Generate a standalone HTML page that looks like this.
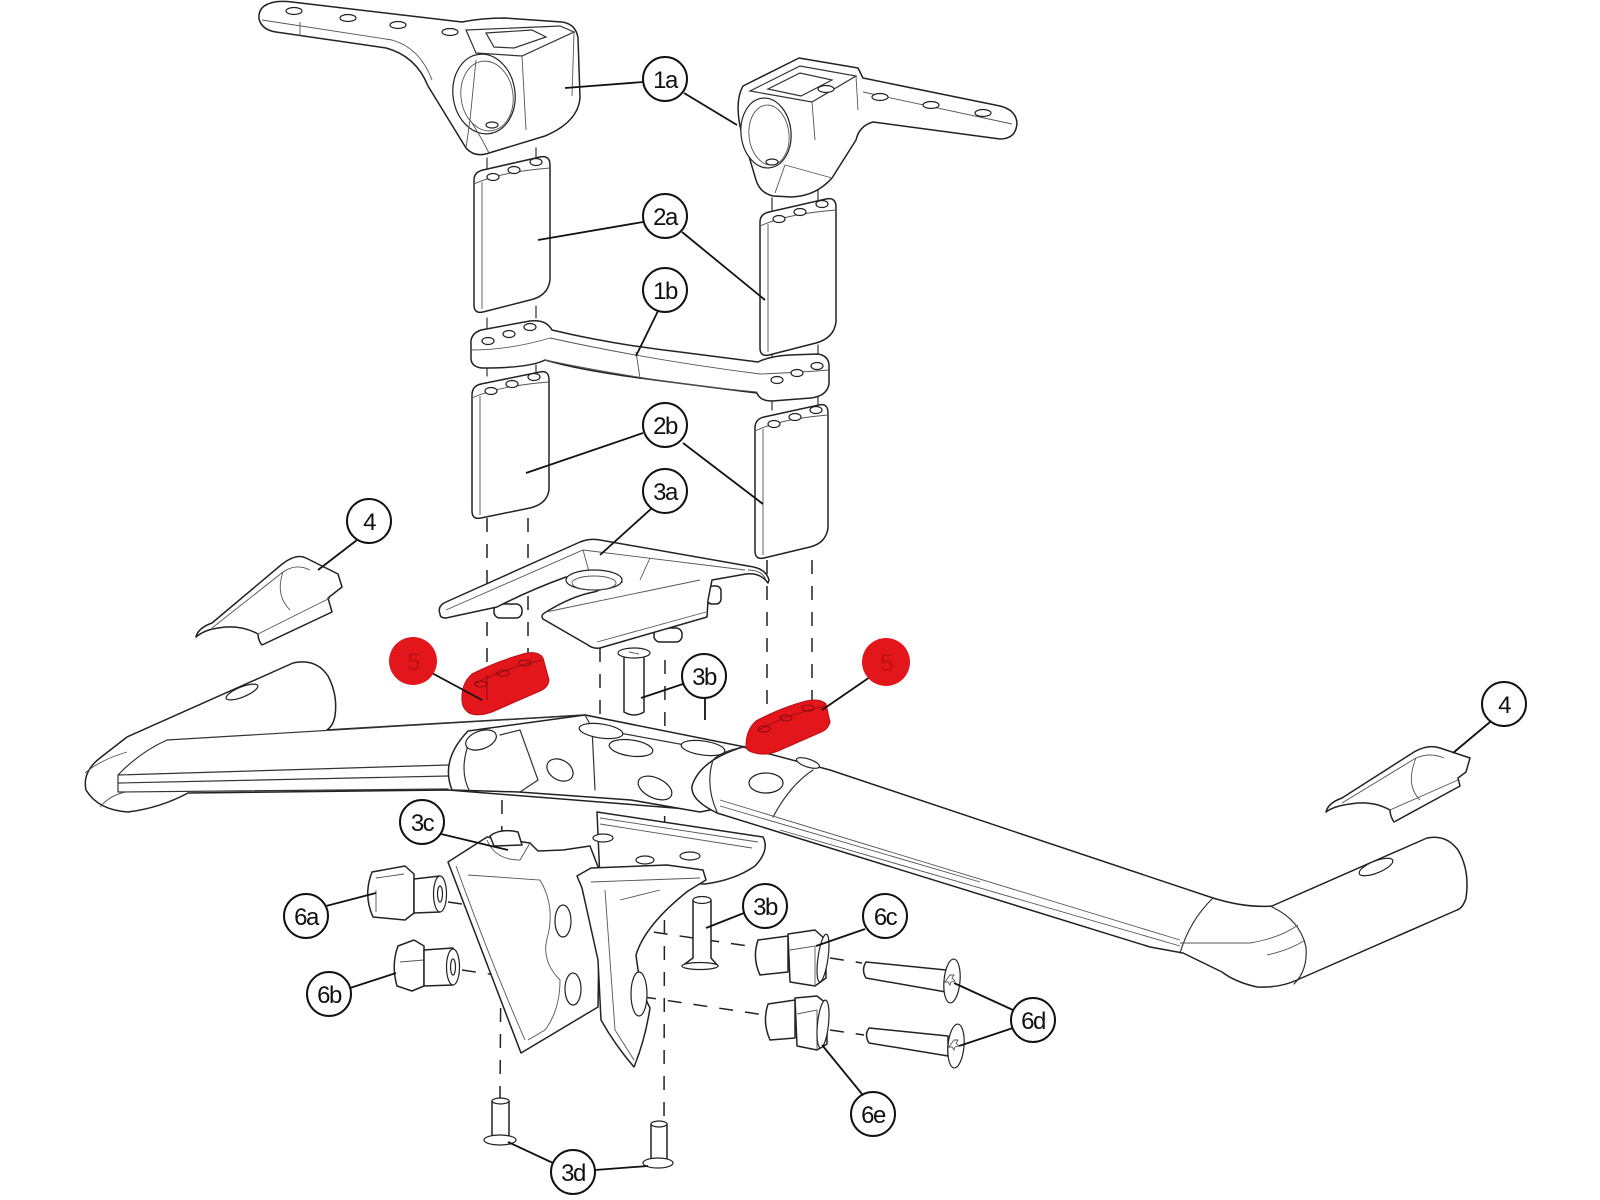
<!DOCTYPE html>
<html>
<head>
<meta charset="utf-8">
<style>
  html,body{margin:0;padding:0;background:#fff;}
  body{width:1600px;height:1200px;overflow:hidden;}
  svg{display:block;}
  .p{fill:#fff;stroke:#222;stroke-width:1.5;stroke-linejoin:round;stroke-linecap:round;}
  .l{fill:none;stroke:#333;stroke-width:1.2;stroke-linecap:round;}
  .t{fill:none;stroke:#555;stroke-width:0.9;}
  .h{fill:#fff;stroke:#222;stroke-width:1.2;}
  .d{fill:none;stroke:#222;stroke-width:1.5;stroke-dasharray:14 12;}
  .ld{fill:none;stroke:#111;stroke-width:1.8;}
  .c{fill:#fff;stroke:#111;stroke-width:2;}
  .tx{font-family:"Liberation Sans",sans-serif;font-size:24px;fill:#111;text-anchor:middle;letter-spacing:-1.5px;}
  .red{fill:#e3161c;stroke:#b80f14;stroke-width:1;}
</style>
</head>
<body>
<svg width="1600" height="1200" viewBox="0 0 1600 1200" xmlns="http://www.w3.org/2000/svg">

<!-- ============ dashed assembly lines ============ -->
<g class="d">
  <line x1="487" y1="518" x2="487" y2="700"/>
  <line x1="528" y1="518" x2="528" y2="655"/>
  <line x1="502" y1="800" x2="500" y2="1098"/>
  <line x1="528" y1="720" x2="528" y2="790"/>
  <line x1="600" y1="648" x2="600" y2="720"/>
  <line x1="665" y1="660" x2="664" y2="1120"/>
  <line x1="767" y1="560" x2="767" y2="730"/>
  <line x1="812" y1="560" x2="812" y2="700"/>
  <line x1="448" y1="902" x2="755" y2="947"/>
  <line x1="830" y1="958" x2="862" y2="963"/>
  <line x1="462" y1="970" x2="765" y2="1015"/>
  <line x1="830" y1="1030" x2="864" y2="1035"/>
</g>
<!-- short solid ticks between stacked parts -->
<g class="l">
  <line x1="487" y1="158" x2="487" y2="168"/>
  <line x1="536" y1="148" x2="536" y2="158"/>
  <line x1="772" y1="198" x2="772" y2="210"/>
  <line x1="818" y1="188" x2="818" y2="200"/>
  <line x1="487" y1="318" x2="487" y2="330"/>
  <line x1="536" y1="306" x2="536" y2="318"/>
  <line x1="772" y1="352" x2="772" y2="362"/>
  <line x1="818" y1="345" x2="818" y2="356"/>
  <line x1="487" y1="365" x2="487" y2="376"/>
  <line x1="536" y1="365" x2="536" y2="372"/>
  <line x1="772" y1="400" x2="772" y2="410"/>
  <line x1="818" y1="396" x2="818" y2="404"/>
</g>

<!-- ============ 1a left stem ============ -->
<g>
  <path class="p" d="M268,4 Q258,8 259,19 Q262,30 276,32 L386,48 Q416,56 428,86 L466,148 Q475,158 489,153 L545,136 Q578,122 580,98 L578,38 Q576,24 562,22 L505,18 Q482,18 462,22 L292,2 Q277,0 268,4 Z"/>
  <path class="t" d="M262,20 L392,40 Q420,48 432,80"/>
  <path class="t" d="M300,22 L300,36"/>
  <path class="l" d="M466,30 L560,26 L574,32 L522,56 L476,53 Z"/>
  <path class="l" d="M486,33 L532,30 L546,37 L514,48 L494,47 Z"/>
  <path class="t" d="M522,56 L526,130 M574,32 L572,96"/>
  <ellipse class="h" cx="484" cy="94" rx="31" ry="40" transform="rotate(-8 484 94)"/>
  <ellipse class="t" cx="487" cy="96" rx="26" ry="35" transform="rotate(-8 487 96)"/>
  <path class="t" d="M466,148 L470,120 Q480,135 489,153 M470,120 L476,60"/>
  <ellipse class="h" cx="294" cy="11" rx="8" ry="3.5"/>
  <ellipse class="h" cx="348" cy="18" rx="8" ry="3.5"/>
  <ellipse class="h" cx="398" cy="25" rx="8" ry="3.5"/>
  <ellipse class="h" cx="450" cy="32" rx="8" ry="3.5"/>
  <ellipse class="h" cx="492" cy="125" rx="6" ry="3"/>
</g>

<!-- ============ 1a right stem ============ -->
<g>
  <path class="p" d="M743,86 L799,58 L858,68 L863,78 L1000,106 Q1016,110 1017,123 Q1016,139 1000,139 L873,122 Q859,126 856,140 L832,178 Q816,196 792,197 L773,196 Q760,193 756,180 L740,126 Q735,100 743,86 Z"/>
  <path class="l" d="M750,91 L800,66 L856,76 L812,102 Z"/>
  <path class="l" d="M768,89 L800,73 L832,80 L801,96 Z"/>
  <path class="t" d="M863,92 L1012,124 M812,102 L815,140 M856,76 L858,110"/>
  <ellipse class="h" cx="766" cy="133" rx="25" ry="35" transform="rotate(-6 766 133)"/>
  <ellipse class="t" cx="769" cy="135" rx="20" ry="30" transform="rotate(-6 769 135)"/>
  <path class="t" d="M775,193 L785,165 L832,178"/>
  <ellipse class="h" cx="826" cy="89" rx="8" ry="3.5"/>
  <ellipse class="h" cx="880" cy="97" rx="8" ry="3.5"/>
  <ellipse class="h" cx="931" cy="105" rx="8" ry="3.5"/>
  <ellipse class="h" cx="983" cy="113" rx="8" ry="3.5"/>
  <ellipse class="h" cx="772" cy="162" rx="6" ry="3"/>
</g>

<!-- ============ 2a spacers ============ -->
<g>
  <path class="p" d="M474,180 Q474,172 483,170 L540,157 Q550,155 550,165 L550,280 Q548,296 530,300 L483,312 Q474,314 474,305 Z"/>
  <path class="t" d="M474,184 Q500,172 550,168 M482,182 L482,309"/>
  <ellipse class="h" cx="493" cy="177" rx="6" ry="3.5"/>
  <ellipse class="h" cx="514" cy="170" rx="6" ry="3.5"/>
  <ellipse class="h" cx="536" cy="162" rx="6" ry="3.5"/>

  <path class="p" d="M760,222 Q760,214 769,212 L826,199 Q836,197 836,207 L836,322 Q834,338 816,343 L769,355 Q760,357 760,348 Z"/>
  <path class="t" d="M760,226 Q786,214 836,210 M768,224 L768,352"/>
  <ellipse class="h" cx="779" cy="219" rx="6" ry="3.5"/>
  <ellipse class="h" cx="800" cy="212" rx="6" ry="3.5"/>
  <ellipse class="h" cx="822" cy="204" rx="6" ry="3.5"/>
</g>

<!-- ============ 1b bridge ============ -->
<g>
  <path class="p" d="M471,344 Q470,334 481,330 L530,321 Q546,319 552,330 Q610,344 680,352 L758,362 Q770,356 790,355 L818,354 Q830,356 829,368 L829,384 Q827,396 811,398 L772,401 Q760,401 757,393 Q700,386 640,378 Q580,370 545,360 Q530,368 482,368 Q471,367 471,358 Z"/>
  <path class="t" d="M471,350 Q510,350 550,338 Q650,360 760,374 Q790,373 829,370"/>
  <path class="t" d="M545,360 Q650,382 757,392 M636,352 L640,378"/>
  <ellipse class="h" cx="488" cy="341" rx="6" ry="3.5"/>
  <ellipse class="h" cx="509" cy="334" rx="6" ry="3.5"/>
  <ellipse class="h" cx="530" cy="327" rx="6" ry="3.5"/>
  <ellipse class="h" cx="777" cy="380" rx="6" ry="3.5"/>
  <ellipse class="h" cx="797" cy="373" rx="6" ry="3.5"/>
  <ellipse class="h" cx="817" cy="366" rx="6" ry="3.5"/>
</g>

<!-- ============ 2b spacers ============ -->
<g>
  <path class="p" d="M472,395 Q472,386 481,384 L540,372 Q549,370 549,380 L549,490 Q547,504 530,508 L481,518 Q472,520 472,511 Z"/>
  <path class="t" d="M472,398 Q498,386 549,382 M480,396 L480,515"/>
  <ellipse class="h" cx="491" cy="391" rx="6" ry="3.5"/>
  <ellipse class="h" cx="512" cy="384" rx="6" ry="3.5"/>
  <ellipse class="h" cx="534" cy="377" rx="6" ry="3.5"/>

  <path class="p" d="M755,428 Q755,419 764,417 L819,405 Q828,403 828,413 L828,528 Q826,543 810,547 L764,558 Q755,560 755,551 Z"/>
  <path class="t" d="M755,431 Q780,419 828,415 M763,429 L763,555"/>
  <ellipse class="h" cx="774" cy="424" rx="6" ry="3.5"/>
  <ellipse class="h" cx="795" cy="417" rx="6" ry="3.5"/>
  <ellipse class="h" cx="816" cy="410" rx="6" ry="3.5"/>
</g>

<!-- ============ 3a cover plate ============ -->
<g>
  <rect class="p" x="494" y="604" width="28" height="14" rx="6"/>
  <rect class="p" x="654" y="628" width="28" height="14" rx="6"/>
  <rect class="p" x="707" y="586" width="14" height="18" rx="5"/>
  <path class="p" d="M440,614 Q437,606 446,602 L580,542 Q590,538 600,540 L748,566 Q766,568 769,580 L768,583 Q760,572 746,574 L712,580 L708,600 L707,617 L600,648 Q593,649 588,645 L543,619 Q540,615 546,612 Q572,596 594,592 L622,582 L566,577 Q530,590 497,607 L446,618 Q440,618 440,614 Z"/>
  <path class="t" d="M446,610 L583,550 L745,570 M546,612 L700,580 M597,642 L706,612"/>
  <path class="t" d="M583,550 L590,575 M650,558 L640,580"/>
  <ellipse class="h" cx="594" cy="580" rx="28" ry="10"/>
  <ellipse class="t" cx="594" cy="583" rx="22" ry="7"/>
  <path class="t" d="M748,570 Q762,570 766,580"/>
</g>

<!-- ============ 4 left cover ============ -->
<g>
  <path class="p" d="M196,637 Q198,628 212,623 L281,565 Q296,553 306,558 L338,574 L342,587 L328,598 L332,612 L262,645 Q258,640 258,634 Q240,624 218,628 Q204,630 196,637 Z"/>
  <path class="t" d="M212,628 L283,572 Q296,563 310,570 M258,634 L330,598 M283,572 Q275,595 290,610"/>
</g>

<!-- ============ 4 right cover ============ -->
<g>
  <path class="p" d="M1326,812 Q1328,803 1342,798 L1414,752 Q1428,744 1440,748 L1470,758 L1466,772 L1458,778 L1460,786 L1394,822 Q1390,816 1390,810 Q1372,800 1350,804 Q1334,806 1326,812 Z"/>
  <path class="t" d="M1342,803 L1416,758 Q1430,752 1444,758 M1390,810 L1458,780 M1416,758 Q1405,785 1420,800"/>
</g>

<!-- ============ Main bar / basebar ============ -->
<g>
  <path class="p" d="M188,793 Q160,808 128,812 Q98,810 86,790 Q82,772 100,758 L127,737 L293,663 Q316,658 328,676 Q338,695 335,716 Q333,726 327,730 L360,728 L585,715 L740,747 L740,790 L700,810 L448,790 Z"/>
  <path class="l" d="M167,740 L585,715"/>
  <path class="l" d="M167,740 Q140,752 118,775 L118,792 M118,775 L448,765 M118,783 L448,776 M118,792 L448,789"/>
  <path class="t" d="M85,773 Q100,760 127,752 M100,807 Q110,795 126,792"/>
  <ellipse class="h" cx="242" cy="692" rx="17" ry="5" transform="rotate(-22 242 692)"/>
  <path class="p" d="M452,790 Q440,760 468,731 L585,715 L745,747 L760,800 L700,812 L631,800 L519,792 Z"/>
  <path class="l" d="M470,740 Q458,770 470,792 M585,715 L592,728 L740,755 M500,735 L520,730 L538,780 L520,792 M595,790 L592,728"/>
  <ellipse class="h" cx="481" cy="740" rx="16" ry="9" transform="rotate(-20 481 740)"/>
  <ellipse class="h" cx="601" cy="731" rx="22" ry="7" transform="rotate(8 601 731)"/>
  <ellipse class="h" cx="631" cy="748" rx="22" ry="8" transform="rotate(8 631 748)"/>
  <ellipse class="h" cx="703" cy="748" rx="22" ry="7" transform="rotate(8 703 748)"/>
  <ellipse class="h" cx="560" cy="770" rx="14" ry="10" transform="rotate(30 560 770)"/>
  <ellipse class="h" cx="655" cy="788" rx="18" ry="10" transform="rotate(25 655 788)"/>
  <path class="p" d="M743,747 L830,770 L1213,898 Q1245,908 1272,906 L1427,838 Q1446,834 1458,850 Q1470,870 1466,898 Q1463,908 1457,910 L1297,980 Q1280,988 1257,987 Q1235,982 1222,972 L1183,953 L1150,947 L717,813 Q690,800 692,786 Q700,760 743,747 Z"/>
  <path class="l" d="M713,760 Q705,785 717,812 M743,747 Q720,752 713,760"/>
  <path class="l" d="M773,817 Q790,785 813,770"/>
  <path class="t" d="M720,800 L1180,940 M780,830 L1180,946 M720,806 L980,882"/>
  <path class="l" d="M1213,898 Q1190,920 1180,953"/>
  <path class="l" d="M1272,907 Q1300,920 1306,947 Q1308,970 1294,984"/>
  <path class="t" d="M1180,943 L1250,943 Q1280,938 1298,925 M1267,955 Q1290,950 1305,940"/>
  <ellipse class="h" cx="766" cy="783" rx="17" ry="10"/>
  <ellipse class="h" cx="808" cy="763" rx="12" ry="4" transform="rotate(18 808 763)"/>
  <ellipse class="h" cx="1376" cy="867" rx="18" ry="6" transform="rotate(-22 1376 867)"/>
</g>

<!-- ============ 3b upper pin ============ -->
<g>
  <path class="p" d="M624,655 L644,655 L644,712 Q634,718 624,712 Z"/>
  <ellipse class="h" cx="634" cy="653" rx="16" ry="5"/>
  <path class="t" d="M629,652 L639,654"/>
</g>

<!-- ============ 5 red pads ============ -->
<g>
  <path class="red" d="M462,700 Q461,684 472,674 Q495,662 523,654 Q538,650 543,658 L549,680 Q548,688 540,691 L492,712 Q478,717 469,713 Q462,708 462,700 Z"/>
  <path d="M474,684 Q500,670 542,660" fill="none" stroke="#8a0c0f" stroke-width="0.8"/>
  <ellipse cx="481" cy="684" rx="6" ry="3" fill="none" stroke="#7a0a0d" stroke-width="0.8"/>
  <ellipse cx="503" cy="673" rx="6" ry="3" fill="none" stroke="#7a0a0d" stroke-width="0.8"/>
  <ellipse cx="525" cy="663" rx="6" ry="3" fill="none" stroke="#7a0a0d" stroke-width="0.8"/>
  <line x1="487" y1="675" x2="487" y2="700" stroke="#7a0a0d" stroke-width="0.8"/>

  <path class="red" d="M746,746 Q746,730 756,721 Q780,708 806,701 Q820,698 826,704 L830,722 Q828,730 819,733 L778,751 Q765,756 755,753 Q746,751 746,746 Z"/>
  <path d="M757,731 Q785,715 826,706" fill="none" stroke="#8a0c0f" stroke-width="0.8"/>
  <ellipse cx="764" cy="729" rx="6" ry="3" fill="none" stroke="#7a0a0d" stroke-width="0.8"/>
  <ellipse cx="786" cy="718" rx="6" ry="3" fill="none" stroke="#7a0a0d" stroke-width="0.8"/>
  <ellipse cx="808" cy="708" rx="6" ry="3" fill="none" stroke="#7a0a0d" stroke-width="0.8"/>
</g>

<!-- ============ 3c bracket ============ -->
<g>
  <path class="p" d="M597,812 L763,837 Q770,850 755,866 Q735,880 705,884 L600,880 Z"/>
  <path class="t" d="M600,818 L758,842 M600,824 L752,848"/>
  <path class="p" d="M448,862 L487,837 L530,843 L538,851 L563,850 L590,846 L600,872 L598,1007 L521,1053 Q485,960 448,862 Z"/>
  <path class="t" d="M456,866 Q490,960 525,1040 M468,875 L540,880 Q555,905 548,935 Q540,960 560,980 Q560,1010 545,1030 L528,1040 M487,840 Q495,860 520,860 L530,843"/>
  <ellipse class="h" cx="563" cy="921" rx="8" ry="16"/>
  <ellipse class="h" cx="573" cy="989" rx="8" ry="16"/>
  <path class="p" d="M577,876 L591,868 L667,865 L703,870 L706,880 L688,891 Q645,925 636,955 Q640,990 650,1008 Q645,1040 634,1067 Q615,1045 601,1020 L598,960 L582,888 Z"/>
  <path class="t" d="M591,882 L700,878 M605,890 L615,1030 L634,1060 M620,900 Q640,895 660,890"/>
  <ellipse class="h" cx="639" cy="994" rx="8" ry="22"/>
  <ellipse class="h" cx="603" cy="838" rx="10" ry="4"/>
  <ellipse class="h" cx="690" cy="856" rx="10" ry="4"/>
  <ellipse class="h" cx="645" cy="860" rx="9" ry="4"/>
  <path class="p" d="M490,836 Q500,828 518,832 L522,845 L494,846 Z"/>
</g>

<!-- ============ 3b lower pin ============ -->
<g>
  <path class="p" d="M693,900 L711,900 L711,958 L718,966 Q700,972 682,966 L693,958 Z"/>
  <ellipse class="h" cx="702" cy="900" rx="9" ry="3.5"/>
  <ellipse class="h" cx="700" cy="966" rx="18" ry="3.5"/>
</g>

<!-- ============ nuts 6a / 6b / 6c / 6e ============ -->
<g>
  <path class="p" d="M372,872 L405,866 L414,874 L414,913 L405,920 L373,917 Q363,895 372,872 Z"/>
  <path class="t" d="M376,878 L404,874 M376,890 L376,912"/>
  <path class="p" d="M414,879 L440,876 L440,912 L414,913 Z"/>
  <ellipse class="h" cx="440" cy="894" rx="6.5" ry="18"/>
  <ellipse class="h" cx="440" cy="894" rx="2.5" ry="8"/>

  <path class="p" d="M398,946 L414,940 L424,946 L424,986 L412,991 L397,986 Q391,965 398,946 Z"/>
  <path class="t" d="M400,962 L424,960"/>
  <path class="p" d="M424,950 L453,948 L453,985 L424,986 Z"/>
  <ellipse class="h" cx="453" cy="967" rx="6.5" ry="18"/>
  <ellipse class="h" cx="453" cy="967" rx="2.5" ry="8"/>

  <path class="p" d="M758,940 L788,936 L788,972 L760,975 Q752,958 758,940 Z"/>
  <path class="p" d="M788,934 L815,930 L826,940 L826,978 L815,986 L790,982 Z"/>
  <path class="t" d="M790,950 L815,946 L815,986"/>
  <ellipse class="h" cx="823" cy="958" rx="5" ry="24" transform="rotate(8 823 958)"/>

  <path class="p" d="M768,1004 L795,1000 L795,1038 L770,1040 Q762,1022 768,1004 Z"/>
  <path class="p" d="M795,998 L817,996 L827,1004 L827,1044 L817,1050 L797,1046 Z"/>
  <path class="t" d="M797,1014 L817,1010 L817,1050"/>
  <ellipse class="h" cx="823" cy="1024" rx="5.5" ry="24" transform="rotate(6 823 1024)"/>
</g>

<!-- ============ 6d bolts ============ -->
<g>
  <path class="p" d="M866,962 L946,970 L946,992 L866,978 Q861,970 866,962 Z"/>
  <ellipse class="h" cx="952" cy="981" rx="8" ry="22" transform="rotate(5 952 981)"/>
  <path class="t" d="M950,975 l4,0 l-2,3 l3,3 l-4,1 l-1,3 l-2,-3 l-3,0 l2,-3 z"/>
  <path class="p" d="M869,1028 L948,1036 L948,1056 L869,1043 Q864,1035 869,1028 Z"/>
  <ellipse class="h" cx="956" cy="1046" rx="8" ry="22" transform="rotate(5 956 1046)"/>
  <path class="t" d="M954,1040 l4,0 l-2,3 l3,3 l-4,1 l-1,3 l-2,-3 l-3,0 l2,-3 z"/>
</g>

<!-- ============ 3d pins ============ -->
<g>
  <path class="p" d="M492,1101 L509,1101 L509,1137 L492,1137 Z"/>
  <ellipse class="h" cx="500.5" cy="1101" rx="8.5" ry="3"/>
  <ellipse class="h" cx="500" cy="1140" rx="16" ry="5"/>
  <path class="p" d="M651,1124 L667,1124 L667,1160 L651,1160 Z"/>
  <ellipse class="h" cx="659" cy="1124" rx="8" ry="3"/>
  <ellipse class="h" cx="658" cy="1163" rx="15" ry="5"/>
</g>

<!-- ============ leader lines ============ -->
<g class="ld">
  <line x1="643" y1="82" x2="565" y2="88"/>
  <line x1="684" y1="93" x2="737" y2="125"/>
  <line x1="643" y1="222" x2="538" y2="240"/>
  <line x1="682" y1="232" x2="765" y2="300"/>
  <line x1="658" y1="311" x2="636" y2="356"/>
  <line x1="643" y1="433" x2="526" y2="473"/>
  <line x1="683" y1="443" x2="763" y2="504"/>
  <line x1="652" y1="508" x2="600" y2="555"/>
  <line x1="357" y1="540" x2="318" y2="570"/>
  <line x1="1490" y1="722" x2="1453" y2="753"/>
  <line x1="430" y1="672" x2="482" y2="700"/>
  <line x1="870" y1="677" x2="822" y2="710"/>
  <line x1="683" y1="684" x2="641" y2="698"/>
  <line x1="705" y1="698" x2="705" y2="720"/>
  <line x1="441" y1="834" x2="508" y2="850"/>
  <line x1="326" y1="906" x2="376" y2="893"/>
  <line x1="350" y1="988" x2="396" y2="973"/>
  <line x1="744" y1="913" x2="706" y2="928"/>
  <line x1="865" y1="929" x2="816" y2="946"/>
  <line x1="1013" y1="1010" x2="954" y2="983"/>
  <line x1="1013" y1="1028" x2="959" y2="1046"/>
  <line x1="862" y1="1094" x2="822" y2="1045"/>
  <line x1="553" y1="1163" x2="508" y2="1142"/>
  <line x1="595" y1="1170" x2="648" y2="1166"/>
</g>

<!-- ============ labels ============ -->
<g>
  <circle class="c" cx="665" cy="79" r="22"/><text class="tx" x="665" y="88">1a</text>
  <circle class="c" cx="665" cy="216" r="22"/><text class="tx" x="665" y="225">2a</text>
  <circle class="c" cx="665" cy="290" r="22"/><text class="tx" x="665" y="299">1b</text>
  <circle class="c" cx="665" cy="425" r="22"/><text class="tx" x="665" y="434">2b</text>
  <circle class="c" cx="665" cy="491" r="22"/><text class="tx" x="665" y="500">3a</text>
  <circle class="c" cx="369" cy="521" r="22"/><text class="tx" x="369" y="530">4</text>
  <circle class="c" cx="1504" cy="704" r="22"/><text class="tx" x="1504" y="713">4</text>
  <circle class="c" cx="704" cy="676" r="22"/><text class="tx" x="704" y="685">3b</text>
  <circle class="c" cx="422" cy="822" r="22"/><text class="tx" x="422" y="831">3c</text>
  <circle class="c" cx="306" cy="916" r="22"/><text class="tx" x="306" y="925">6a</text>
  <circle class="c" cx="765" cy="906" r="22"/><text class="tx" x="765" y="915">3b</text>
  <circle class="c" cx="885" cy="916" r="22"/><text class="tx" x="885" y="925">6c</text>
  <circle class="c" cx="329" cy="994" r="22"/><text class="tx" x="329" y="1003">6b</text>
  <circle class="c" cx="1033" cy="1020" r="22"/><text class="tx" x="1033" y="1029">6d</text>
  <circle class="c" cx="873" cy="1114" r="22"/><text class="tx" x="873" y="1123">6e</text>
  <circle class="c" cx="573" cy="1172" r="22"/><text class="tx" x="573" y="1181">3d</text>

  <circle cx="413" cy="661" r="24" fill="#e3161c"/><text class="tx" x="413" y="670" style="fill:#c01015">5</text>
  <circle cx="886" cy="662" r="24" fill="#e3161c"/><text class="tx" x="886" y="671" style="fill:#c01015">5</text>
</g>
</svg>
</body>
</html>
